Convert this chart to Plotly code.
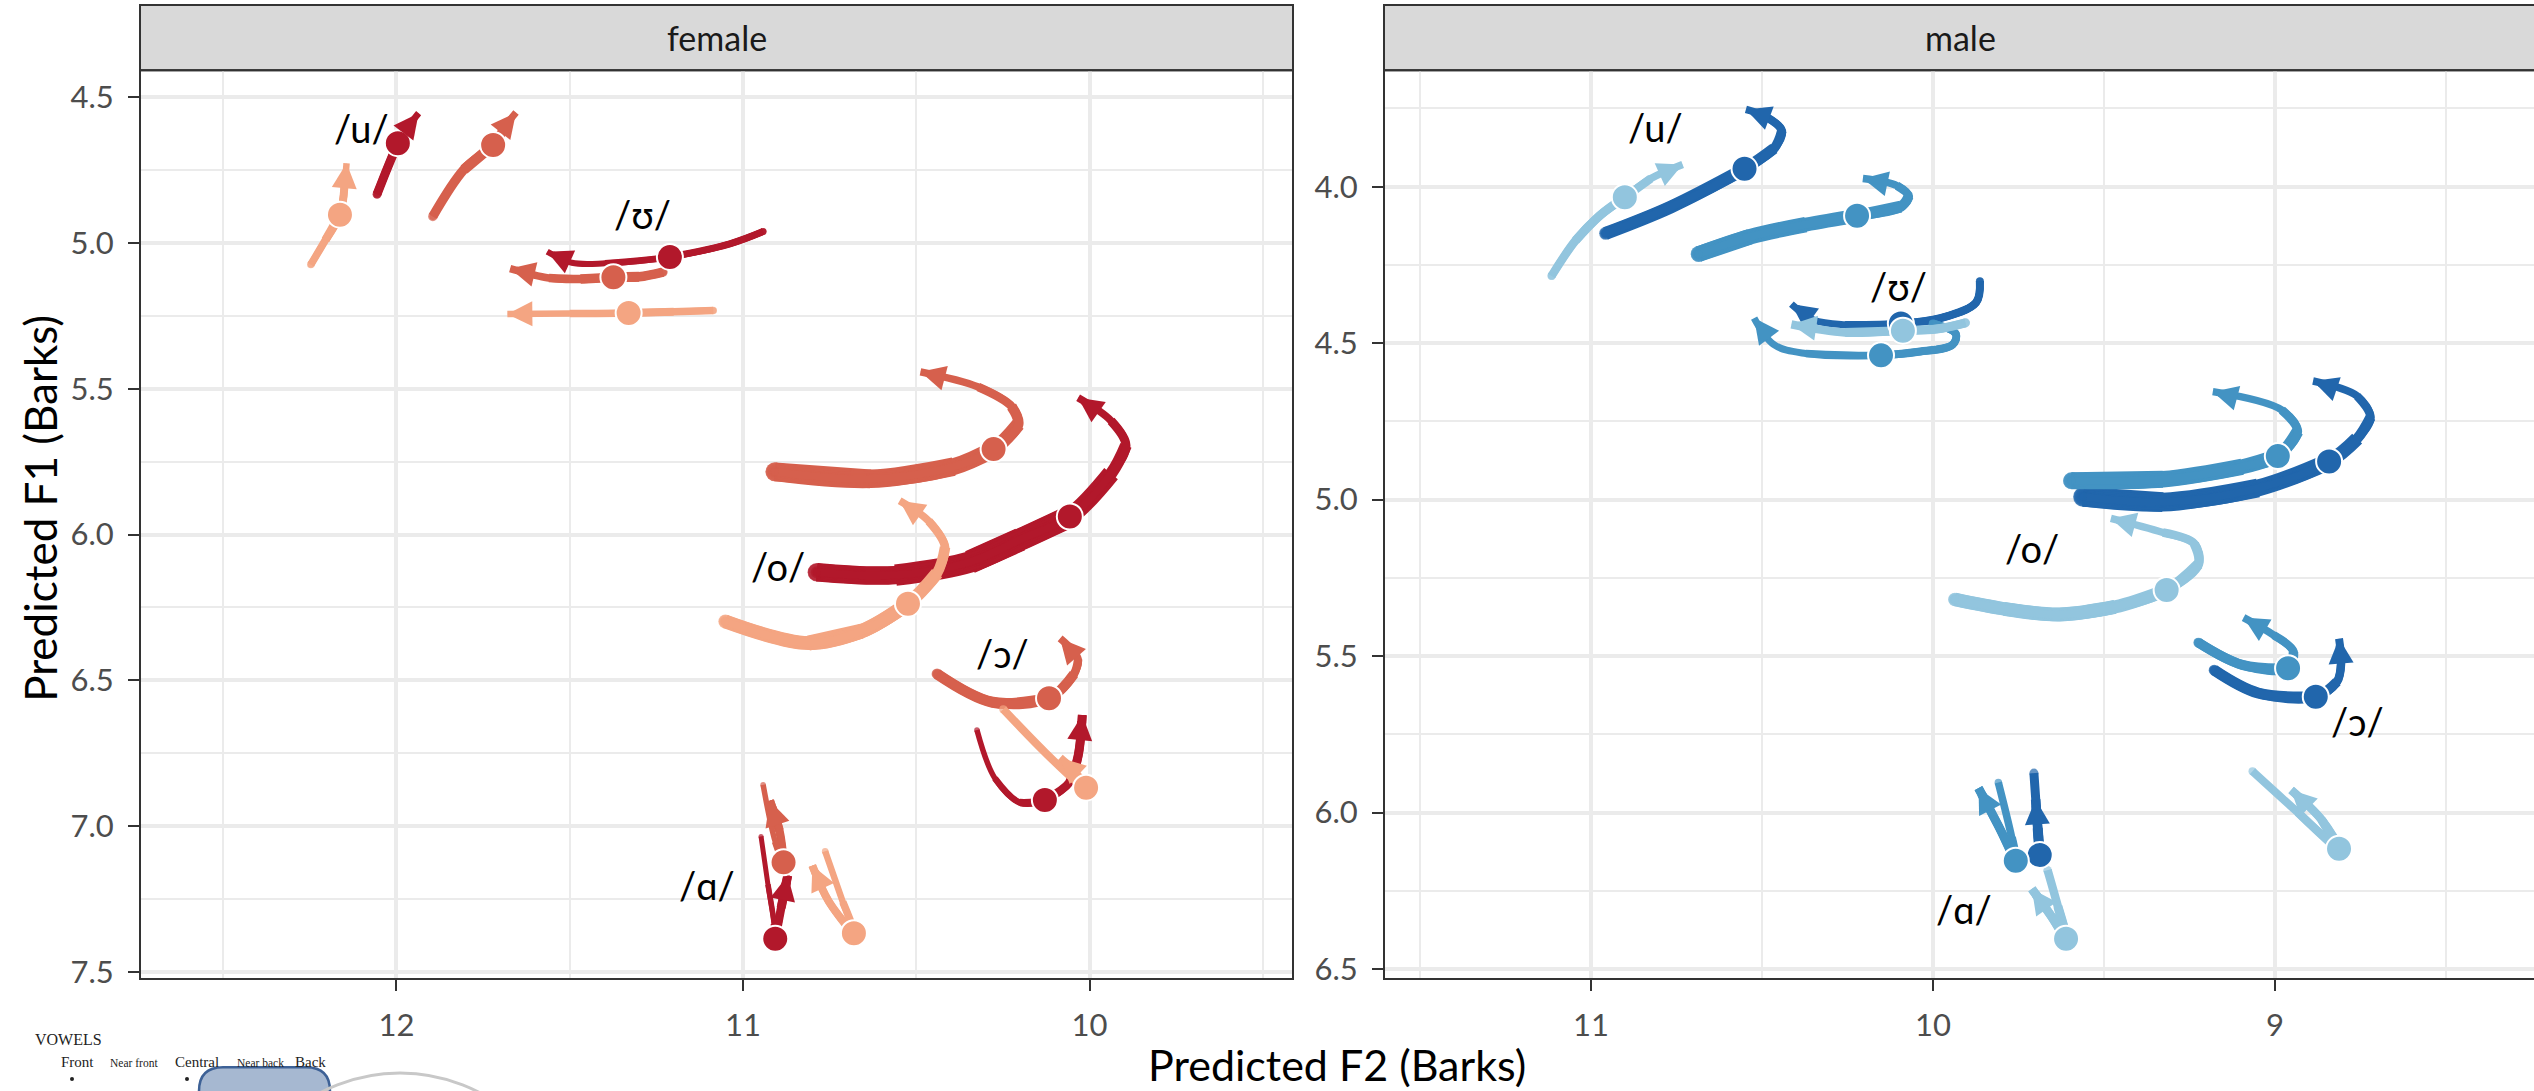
import plotly.graph_objects as go

W, H = 2534, 1091
FONT = "Lato, 'DejaVu Sans', sans-serif"
SERIF = "'Liberation Serif', 'DejaVu Serif', serif"

VOWELS = ["u", "ʊ", "o", "ɔ", "ɑ"]
FEMALE_COLORS = ["#B2182B", "#D6604D", "#F4A582"]
MALE_COLORS = ["#2166AC", "#4393C3", "#92C5DE"]

# ---------------- female trajectories (F2, F1 in Barks) ----------------
f_u1_f2 = [12.056, 12.025, 11.996, 11.965, 11.936]
f_u1_f1 = [4.833, 4.740, 4.658, 4.600, 4.555]
f_u2_f2 = [11.895, 11.805, 11.721, 11.685, 11.655]
f_u2_f1 = [4.909, 4.748, 4.664, 4.598, 4.553]
f_u3_f2 = [12.247, 12.205, 12.163, 12.150, 12.144]
f_u3_f1 = [5.074, 4.990, 4.903, 4.805, 4.727]

f_U1_f2 = [10.942, 11.038, 11.211, 11.398, 11.494, 11.565]
f_U1_f1 = [4.961, 5.003, 5.048, 5.070, 5.068, 5.030]
f_U2_f2 = [11.231, 11.300, 11.374, 11.469, 11.560, 11.672]
f_U2_f1 = [5.100, 5.116, 5.118, 5.124, 5.120, 5.088]
f_U3_f2 = [11.086, 11.200, 11.330, 11.500, 11.680]
f_U3_f1 = [5.232, 5.236, 5.240, 5.242, 5.244]

f_o1_f2 = [10.787, 10.560, 10.345, 10.200, 10.057, 9.938, 9.895, 9.938, 10.033]
f_o1_f1 = [6.129, 6.139, 6.094, 6.017, 5.938, 5.791, 5.694, 5.610, 5.531]
f_o2_f2 = [10.908, 10.632, 10.392, 10.277, 10.206, 10.225, 10.321, 10.488]
f_o2_f1 = [5.785, 5.809, 5.767, 5.707, 5.622, 5.561, 5.494, 5.442]
f_o3_f2 = [11.051, 10.811, 10.657, 10.524, 10.440, 10.417, 10.464, 10.548]
f_o3_f1 = [6.298, 6.372, 6.331, 6.237, 6.132, 6.043, 5.954, 5.884]

f_O1_f2 = [10.325, 10.273, 10.201, 10.129, 10.057, 10.033, 10.021]
f_O1_f1 = [6.670, 6.836, 6.919, 6.910, 6.848, 6.759, 6.619]
f_O2_f2 = [10.440, 10.280, 10.117, 10.045, 10.033, 10.085]
f_O2_f1 = [6.478, 6.575, 6.561, 6.478, 6.427, 6.356]
f_O3_f2 = [10.249, 10.130, 10.040, 10.010, 10.045, 10.085]
f_O3_f1 = [6.599, 6.745, 6.845, 6.868, 6.810, 6.765]

f_A1_f2 = [10.948, 10.928, 10.910, 10.907, 10.890, 10.871]
f_A1_f1 = [7.035, 7.200, 7.335, 7.386, 7.280, 7.169]
f_A2_f2 = [10.942, 10.907, 10.883, 10.895, 10.923]
f_A2_f1 = [6.858, 7.053, 7.124, 7.015, 6.913]
f_A3_f2 = [10.763, 10.712, 10.680, 10.752, 10.800]
f_A3_f1 = [7.086, 7.260, 7.367, 7.259, 7.135]

# female midpoints (dots), order: u1 u2 u3 ʊ1 ʊ2 ʊ3 o1 o2 o3 ɔ1 ɔ2 ɔ3 ɑ1 ɑ2 ɑ3
f_dot_f2 = [11.996, 11.721, 12.163, 11.211, 11.374, 11.330, 10.057, 10.277, 10.524,
            10.129, 10.117, 10.010, 10.907, 10.883, 10.680]
f_dot_f1 = [4.658, 4.664, 4.903, 5.048, 5.118, 5.240, 5.938, 5.707, 6.237,
            6.910, 6.561, 6.868, 7.386, 7.124, 7.367]

# ---------------- male trajectories ----------------
m_u1_f2 = [10.957, 10.767, 10.551, 10.465, 10.442, 10.488, 10.547]
m_u1_f1 = [4.149, 4.065, 3.943, 3.878, 3.821, 3.777, 3.753]
m_u2_f2 = [10.685, 10.535, 10.372, 10.222, 10.094, 10.071, 10.105, 10.205]
m_u2_f1 = [4.215, 4.160, 4.121, 4.093, 4.064, 4.030, 3.997, 3.974]
m_u3_f2 = [11.115, 11.045, 10.975, 10.901, 10.825, 10.732]
m_u3_f1 = [4.285, 4.172, 4.093, 4.034, 3.974, 3.929]

m_U1_f2 = [9.863, 9.874, 9.978, 10.094, 10.257, 10.349, 10.414]
m_U1_f1 = [4.302, 4.370, 4.420, 4.437, 4.441, 4.426, 4.375]
m_U2_f2 = [10.001, 9.933, 9.943, 10.048, 10.152, 10.372, 10.465, 10.523]
m_U2_f1 = [4.437, 4.471, 4.505, 4.528, 4.539, 4.533, 4.505, 4.420]
m_U3_f2 = [9.905, 9.990, 10.088, 10.257, 10.414]
m_U3_f1 = [4.435, 4.455, 4.460, 4.466, 4.440]

m_o1_f2 = [9.561, 9.328, 9.050, 8.842, 8.760, 8.721, 8.760, 8.889]
m_o1_f1 = [4.991, 5.008, 4.963, 4.878, 4.805, 4.737, 4.669, 4.621]
m_o2_f2 = [9.595, 9.328, 9.096, 8.992, 8.934, 8.980, 9.182]
m_o2_f1 = [4.940, 4.935, 4.895, 4.861, 4.782, 4.714, 4.655]
m_o3_f2 = [9.936, 9.792, 9.630, 9.468, 9.317, 9.224, 9.236, 9.328, 9.480]
m_o3_f1 = [5.319, 5.349, 5.367, 5.343, 5.289, 5.206, 5.141, 5.105, 5.060]

m_O1_f2 = [9.178, 9.050, 8.881, 8.819, 8.807, 8.813]
m_O1_f1 = [5.545, 5.618, 5.630, 5.582, 5.522, 5.444]
m_O2_f2 = [9.224, 9.096, 8.962, 8.946, 9.004, 9.092]
m_O2_f1 = [5.457, 5.528, 5.539, 5.486, 5.433, 5.377]
m_O3_f2 = [9.066, 8.934, 8.813, 8.864, 8.953]
m_O3_f1 = [5.868, 5.999, 6.116, 6.023, 5.928]

m_A1_f2 = [9.705, 9.697, 9.688, 9.694, 9.700]
m_A1_f1 = [5.874, 6.000, 6.136, 6.050, 5.958]
m_A2_f2 = [9.809, 9.770, 9.758, 9.810, 9.867]
m_A2_f1 = [5.904, 6.080, 6.154, 6.040, 5.922]
m_A3_f2 = [9.665, 9.635, 9.611, 9.653, 9.711]
m_A3_f1 = [6.184, 6.300, 6.403, 6.333, 6.244]

m_dot_f2 = [10.551, 10.222, 10.901, 10.094, 10.152, 10.088, 8.842, 8.992, 9.317,
            8.881, 8.962, 8.813, 9.688, 9.758, 9.611]
m_dot_f1 = [3.943, 4.093, 4.034, 4.437, 4.539, 4.460, 4.878, 4.861, 5.289,
            5.630, 5.539, 6.116, 6.136, 6.154, 6.403]

# vowel label positions
f_lab_f2 = [12.10, 11.29, 10.90, 10.25, 11.105]
f_lab_f1 = [4.607, 4.902, 6.107, 6.405, 7.202]
m_lab_f2 = [10.81, 10.10, 9.711, 8.76, 9.908]
m_lab_f1 = [3.81, 4.318, 5.153, 5.707, 6.309]

# ---------------- line widths along each path (px, style) ----------------
F_WIDTHS = {
    "u": [[9, 9, 9, 7, 6], [9, 10, 11, 8, 6], [7, 8, 9, 7, 6]],
    "ʊ": [[7, 7, 7, 6, 6, 6], [9, 10, 10, 9, 8, 7], [7, 8, 8, 7, 6]],
    "o": [[17, 20, 23, 24, 21, 14, 10, 8, 7], [19, 19, 18, 16, 12, 9, 8, 7],
          [13, 15, 15, 14, 12, 9, 8, 7]],
    "ɔ": [[5, 6, 7, 8, 9, 9, 9], [11, 11, 11, 9, 8, 7], [8, 8, 8, 8, 8, 8]],
    "ɑ": [[5, 5, 6, 8, 9, 9], [5, 6, 8, 9, 9], [6, 7, 8, 8, 8]],
}
M_WIDTHS = {
    "u": [[13, 13, 13, 10, 9, 8, 7], [16, 16, 15, 13, 11, 9, 8, 7], [8, 9, 9, 9, 8, 7]],
    "ʊ": [[8, 8, 8, 8, 7, 7, 7], [8, 8, 8, 8, 8, 7, 7, 7], [9, 9, 9, 9, 8]],
    "o": [[20, 20, 18, 16, 12, 9, 8, 7], [17, 17, 16, 14, 10, 8, 7],
          [13, 14, 14, 14, 12, 10, 9, 8, 7]],
    "ɔ": [[11, 11, 11, 9, 8, 8], [10, 10, 10, 9, 8, 7], [8, 8, 9, 9, 8]],
    "ɑ": [[9, 9, 10, 10, 9], [7, 8, 9, 9, 9], [8, 9, 9, 9, 9]],
}

FEMALE = {
    "u": [(f_u1_f2, f_u1_f1), (f_u2_f2, f_u2_f1), (f_u3_f2, f_u3_f1)],
    "ʊ": [(f_U1_f2, f_U1_f1), (f_U2_f2, f_U2_f1), (f_U3_f2, f_U3_f1)],
    "o": [(f_o1_f2, f_o1_f1), (f_o2_f2, f_o2_f1), (f_o3_f2, f_o3_f1)],
    "ɔ": [(f_O1_f2, f_O1_f1), (f_O2_f2, f_O2_f1), (f_O3_f2, f_O3_f1)],
    "ɑ": [(f_A1_f2, f_A1_f1), (f_A2_f2, f_A2_f1), (f_A3_f2, f_A3_f1)],
}
MALE = {
    "u": [(m_u1_f2, m_u1_f1), (m_u2_f2, m_u2_f1), (m_u3_f2, m_u3_f1)],
    "ʊ": [(m_U1_f2, m_U1_f1), (m_U2_f2, m_U2_f1), (m_U3_f2, m_U3_f1)],
    "o": [(m_o1_f2, m_o1_f1), (m_o2_f2, m_o2_f1), (m_o3_f2, m_o3_f1)],
    "ɔ": [(m_O1_f2, m_O1_f1), (m_O2_f2, m_O2_f1), (m_O3_f2, m_O3_f1)],
    "ɑ": [(m_A1_f2, m_A1_f1), (m_A2_f2, m_A2_f1), (m_A3_f2, m_A3_f1)],
}

HEAD_LEN = 25  # px length of arrow heads

# panel geometry (px)
TOP, BOT = 71, 989
PANELS = {
    "female": dict(x0=140, x1=1293, xr=(12.74, 9.413), yr=(4.408, 7.524)),
    "male": dict(x0=1384, x1=2534, xr=(11.605, 8.243), yr=(3.628, 6.532)),
}


def px_x(p):
    return p / W


def px_y(p):
    return 1 - p / H


def to_px(pan, fx, fy):
    g = PANELS[pan]
    X = g["x0"] + (g["xr"][0] - fx) / (g["xr"][0] - g["xr"][1]) * (g["x1"] - g["x0"])
    Y = TOP + (fy - g["yr"][0]) / (g["yr"][1] - g["yr"][0]) * (BOT - TOP)
    return X, Y


def to_data(pan, X, Y):
    g = PANELS[pan]
    fx = g["xr"][0] - (X - g["x0"]) / (g["x1"] - g["x0"]) * (g["xr"][0] - g["xr"][1])
    fy = g["yr"][0] + (Y - TOP) / (BOT - TOP) * (g["yr"][1] - g["yr"][0])
    return fx, fy


fig = go.Figure()
arrow_annos = []


def add_path(pan, xs, ys, ws, color, xa, ya):
    n = len(xs)
    seg = [(ws[i] + ws[i + 1]) / 2 for i in range(n - 1)]
    spans = {}
    for i, w in enumerate(seg):
        lo = i
        while lo > 0 and seg[lo - 1] >= w:
            lo -= 1
        hi = i
        while hi < n - 2 and seg[hi + 1] >= w:
            hi += 1
        spans[(lo, hi)] = max(spans.get((lo, hi), 0), w)
    for (lo, hi), w in sorted(spans.items(), key=lambda kv: -kv[1]):
        px = xs[lo:hi + 2]
        py = ys[lo:hi + 2]
        m = len(px)
        sizes = [0] * m
        if lo == 0:
            sizes[0] = w
        fig.add_trace(go.Scatter(
            x=px, y=py, xaxis=xa, yaxis=ya, mode="lines+markers" if lo == 0 else "lines",
            line=dict(color=color, width=w, shape="spline", smoothing=1),
            marker=dict(size=sizes, symbol="circle", color=color, line=dict(width=0)),
            hoverinfo="skip", showlegend=False))
    # arrow head at the end of the path
    tx, ty = to_px(pan, xs[-1], ys[-1])
    qx, qy = to_px(pan, xs[-2], ys[-2])
    d = ((qx - tx) ** 2 + (qy - ty) ** 2) ** 0.5
    bx, by = tx + (qx - tx) / d * HEAD_LEN, ty + (qy - ty) / d * HEAD_LEN
    ax, ay = to_data(pan, bx, by)
    wend = ws[-1]
    arrow_annos.append(dict(x=xs[-1], y=ys[-1], ax=ax, ay=ay, xref=xa, yref=ya,
                            axref=xa, ayref=ya, text="", showarrow=True, arrowhead=2,
                            arrowcolor=color, arrowwidth=wend,
                            arrowsize=HEAD_LEN / (5.0 * wend), standoff=0))


for pan, panel, widths, colors, xa, ya in [
        ("female", FEMALE, F_WIDTHS, FEMALE_COLORS, "x", "y"),
        ("male", MALE, M_WIDTHS, MALE_COLORS, "x2", "y2")]:
    for v in VOWELS:
        for g in range(3):
            xs, ys = panel[v][g]
            add_path(pan, xs, ys, widths[v][g], colors[g], xa, ya)

dot_cols_f = [FEMALE_COLORS[i % 3] for i in range(15)]
dot_cols_m = [MALE_COLORS[i % 3] for i in range(15)]
fig.add_trace(go.Scatter(x=f_dot_f2, y=f_dot_f1, xaxis="x", yaxis="y", mode="markers",
                         marker=dict(size=26, color=dot_cols_f, line=dict(color="white", width=2)),
                         hoverinfo="skip", showlegend=False))
fig.add_trace(go.Scatter(x=m_dot_f2, y=m_dot_f1, xaxis="x2", yaxis="y2", mode="markers",
                         marker=dict(size=26, color=dot_cols_m, line=dict(color="white", width=2)),
                         hoverinfo="skip", showlegend=False))

annotations = list(arrow_annos)
for labs_x, labs_y, xr, yr in [(f_lab_f2, f_lab_f1, "x", "y"), (m_lab_f2, m_lab_f1, "x2", "y2")]:
    for v, lx, ly in zip(VOWELS, labs_x, labs_y):
        annotations.append(dict(x=lx, y=ly, xref=xr, yref=yr, text="/" + v + "/",
                                xanchor="center", yanchor="middle",
                                showarrow=False, font=dict(family=FONT, size=38, color="black")))

# strips and titles
annotations += [
    dict(x=px_x((140 + 1293) / 2), y=px_y(38), xref="paper", yref="paper", text="female",
         xanchor="center", yanchor="middle",
         showarrow=False, font=dict(family=FONT, size=34, color="#1A1A1A")),
    dict(x=px_x(1960), y=px_y(38), xref="paper", yref="paper", text="male",
         xanchor="center", yanchor="middle",
         showarrow=False, font=dict(family=FONT, size=34, color="#1A1A1A")),
    dict(x=px_x(1337), y=px_y(1075), xref="paper", yref="paper", text="Predicted F2 (Barks)",
         xanchor="center", yanchor="middle",
         showarrow=False, font=dict(family=FONT, size=43, color="black")),
    dict(x=px_x(40), y=px_y(514), xref="paper", yref="paper", text="Predicted F1 (Barks)",
         xanchor="center", yanchor="middle",
         textangle=-90, showarrow=False, font=dict(family=FONT, size=44, color="black")),
]

# inset fragment (vowel chart picture)
inset_texts = [("VOWELS", 33, 1050, 16), ("Front", 59, 1073, 15), ("Near front", 108, 1074, 11.5),
               ("Central", 173, 1073, 15), ("Near back", 235, 1074, 11.5), ("Back", 293, 1073, 15)]
for t, x0, y0, s in inset_texts:
    annotations.append(dict(x=px_x(x0), y=px_y(y0), xref="paper", yref="paper", text=t,
                            xanchor="left", yanchor="middle", showarrow=False,
                            font=dict(family=SERIF, size=s, color="#222222")))

shapes = []
for x0, x1 in [(140, 1293), (1384, 2540)]:
    shapes.append(dict(type="rect", xref="paper", yref="paper", x0=px_x(x0), x1=px_x(x1),
                       y0=px_y(TOP), y1=px_y(5), fillcolor="#D9D9D9",
                       line=dict(color="#333333", width=2), layer="below"))
    shapes.append(dict(type="rect", xref="paper", yref="paper", x0=px_x(x0), x1=px_x(x1),
                       y0=px_y(BOT), y1=px_y(TOP), fillcolor="rgba(0,0,0,0)",
                       line=dict(color="#333333", width=2), layer="above"))

# rounded rectangle and arc in the inset
r = 24
xa0, xa1, yt, yb = 199, 330, 1078, 1130
path = (f"M {px_x(xa0)},{px_y(yb)} L {px_x(xa0)},{px_y(yt + r)} "
        f"Q {px_x(xa0)},{px_y(yt)} {px_x(xa0 + r)},{px_y(yt)} "
        f"L {px_x(xa1 - r)},{px_y(yt)} Q {px_x(xa1)},{px_y(yt)} {px_x(xa1)},{px_y(yt + r)} "
        f"L {px_x(xa1)},{px_y(yb)} Z")
shapes.append(dict(type="path", xref="paper", yref="paper", path=path,
                   fillcolor="#A6B8D1", line=dict(color="#3D6196", width=2.5)))
shapes.append(dict(type="circle", xref="paper", yref="paper", x0=px_x(230), x1=px_x(570),
                   y0=px_y(1424), y1=px_y(1084), line=dict(color="#C8C8C8", width=3)))
for cx in [72, 187]:
    shapes.append(dict(type="circle", xref="paper", yref="paper", x0=px_x(cx - 2), x1=px_x(cx + 2),
                       y0=px_y(1092), y1=px_y(1088), fillcolor="#222222", line=dict(width=0)))

axis_common = dict(showgrid=True, gridcolor="#EBEBEB", gridwidth=4, zeroline=False, showline=False,
                   ticks="outside", ticklen=11, tickwidth=2, tickcolor="#333333",
                   tickfont=dict(family=FONT, size=31, color="#4D4D4D"), ticklabelstandoff=8)
minor_x = dict(showgrid=True, gridcolor="#EBEBEB", gridwidth=2, dtick=0.5, tick0=0)
minor_y = dict(showgrid=True, gridcolor="#EBEBEB", gridwidth=2, dtick=0.25, tick0=0)

fig.update_layout(
    width=W, height=H, margin=dict(l=0, r=0, t=0, b=0),
    paper_bgcolor="white", plot_bgcolor="white", showlegend=False,
    xaxis=dict(domain=[px_x(140), px_x(1293)], range=[12.74, 9.413], anchor="y", dtick=1, tick0=0,
               minor=minor_x, **axis_common),
    yaxis=dict(domain=[px_y(BOT), px_y(TOP)], range=[7.524, 4.408], anchor="x", dtick=0.5, tick0=0,
               tickformat=".1f", minor=minor_y, **axis_common),
    xaxis2=dict(domain=[px_x(1384), 1.0], range=[11.605, 8.243], anchor="y2", dtick=1, tick0=0,
                minor=minor_x, **axis_common),
    yaxis2=dict(domain=[px_y(BOT), px_y(TOP)], range=[6.532, 3.628], anchor="x2", dtick=0.5, tick0=0,
                tickformat=".1f", minor=minor_y, **axis_common),
    annotations=annotations, shapes=shapes,
)

fig.write_html("out.html")
